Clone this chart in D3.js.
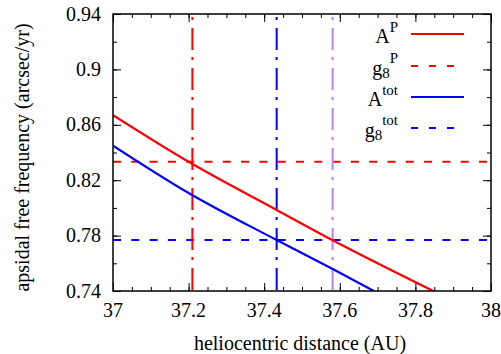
<!DOCTYPE html>
<html><head><meta charset="utf-8">
<script src="https://cdn.jsdelivr.net/npm/d3@7"></script>
<style>body{margin:0;background:#fff}svg{display:block}text{font-family:"Liberation Serif","Times New Roman",serif;fill:#000}</style>
</head><body><svg id="c" width="501" height="354"></svg>
<script>
const distAP = [37, 37.2, 37.433, 37.58, 37.847];
const valAP = [0.867, 0.8333, 0.7985, 0.7768, 0.74];
const distTot = [37, 37.2, 37.433, 37.58, 37.69];
const valTot = [0.845, 0.8108, 0.7768, 0.756, 0.74];
const g8P = 0.8333, g8tot = 0.7768;
const vlines = [{x:37.21,c:"#ff0000"},{x:37.433,c:"#0000ff"},{x:37.581,c:"#bf80f0"}];
const xTicks = [37, 37.2, 37.4, 37.6, 37.8, 38];
const yTicks = [0.74, 0.78, 0.82, 0.86, 0.9, 0.94];
const legend = [
  {main:"A", sub:null, sup:"P", color:"#ff0000", dash:null},
  {main:"g", sub:"8", sup:"P", color:"#ff0000", dash:"7,11"},
  {main:"A", sub:null, sup:"tot", color:"#0000ff", dash:null},
  {main:"g", sub:"8", sup:"tot", color:"#0000ff", dash:"7,11"}
];

const L=113, R=491, T=14, B=291;
const svg = d3.select("#c");
const x = d3.scaleLinear().domain([37,38]).range([L,R]);
const y = d3.scaleLinear().domain([0.74,0.94]).range([B,T]);

svg.append("defs").append("clipPath").attr("id","clip").append("rect")
  .attr("x",L).attr("y",T).attr("width",R-L).attr("height",B-T);
const g = svg.append("g").attr("clip-path","url(#clip)");

[[g8P,"#ff0000"],[g8tot,"#0000ff"]].forEach(([v,c])=>{
  g.append("line").attr("x1",L).attr("x2",R).attr("y1",y(v)).attr("y2",y(v))
   .attr("stroke",c).attr("stroke-width",2).attr("stroke-dasharray","8,10.3");
});
vlines.forEach(d=>{
  g.append("line").attr("x1",x(d.x)).attr("x2",x(d.x)).attr("y1",T).attr("y2",B)
   .attr("stroke",d.c).attr("stroke-width",2).attr("stroke-dasharray","22,7,3,8")
   .attr("stroke-dashoffset",26);
});
const line = d3.line().x(d=>x(d[0])).y(d=>y(d[1])).curve(d3.curveMonotoneX);
g.append("path").datum(distAP.map((d,i)=>[d,valAP[i]])).attr("d",line)
  .attr("fill","none").attr("stroke","#ff0000").attr("stroke-width",2.2);
g.append("path").datum(distTot.map((d,i)=>[d,valTot[i]])).attr("d",line)
  .attr("fill","none").attr("stroke","#0000ff").attr("stroke-width",2.2);

const xMinor = d3.range(37,38.001,0.05);
const yMinor = d3.range(0.74,0.9401,0.02);
const ax = svg.append("g");
function tk(g, pos, axisFn, vals, len){
  g.append("g").attr("transform",pos).call(axisFn.tickValues(vals).tickSize(len).tickFormat(""))
   .call(s=>{s.select(".domain").remove(); s.selectAll("line").attr("stroke","#000").attr("stroke-width",1);});
}
tk(ax,`translate(0,${B})`,d3.axisTop(x),xMinor,4);
tk(ax,`translate(0,${B})`,d3.axisTop(x),xTicks,8);
tk(ax,`translate(0,${T})`,d3.axisBottom(x),xMinor,4);
tk(ax,`translate(0,${T})`,d3.axisBottom(x),xTicks,8);
tk(ax,`translate(${L},0)`,d3.axisRight(y),yMinor,4);
tk(ax,`translate(${L},0)`,d3.axisRight(y),yTicks,8);
tk(ax,`translate(${R},0)`,d3.axisLeft(y),yMinor,4);
tk(ax,`translate(${R},0)`,d3.axisLeft(y),yTicks,8);

svg.append("rect").attr("x",L).attr("y",T).attr("width",R-L).attr("height",B-T)
  .attr("fill","none").attr("stroke","#000").attr("stroke-width",1.5);

xTicks.forEach(v=>svg.append("text").attr("x",x(v)).attr("y",317).attr("text-anchor","middle")
  .attr("font-size",20).text(String(+v.toFixed(1))));
yTicks.forEach(v=>svg.append("text").attr("x",101).attr("y",y(v)+6.5).attr("text-anchor","end")
  .attr("font-size",20).text(String(+v.toFixed(2))));

svg.append("text").attr("x",300).attr("y",350).attr("text-anchor","middle").attr("font-size",20)
  .text("heliocentric distance (AU)");
svg.append("text").attr("transform",`translate(29,${(T+B)/2+5}) rotate(-90)`).attr("text-anchor","middle")
  .attr("font-size",20).text("apsidal free frequency (arcsec/yr)");

const rowY = [34, 66, 97, 128];
legend.forEach((d,i)=>{
  const yy = rowY[i];
  const t = svg.append("text").attr("x",398).attr("y",yy+9).attr("text-anchor","end").attr("font-size",20);
  t.append("tspan").text(d.main);
  if(d.sub){ t.append("tspan").attr("font-size",15).attr("dy",3).text(d.sub);
    t.append("tspan").attr("font-size",15).attr("dy",-15).text(d.sup); }
  else { t.append("tspan").attr("font-size",15).attr("dy",-11).text(d.sup); }
  svg.append("line").attr("x1",d.dash?411:411).attr("x2",d.dash?456:464).attr("y1",yy).attr("y2",yy)
    .attr("stroke",d.color).attr("stroke-width",2)
    .attr("stroke-dasharray",d.dash);
});
</script></body></html>
